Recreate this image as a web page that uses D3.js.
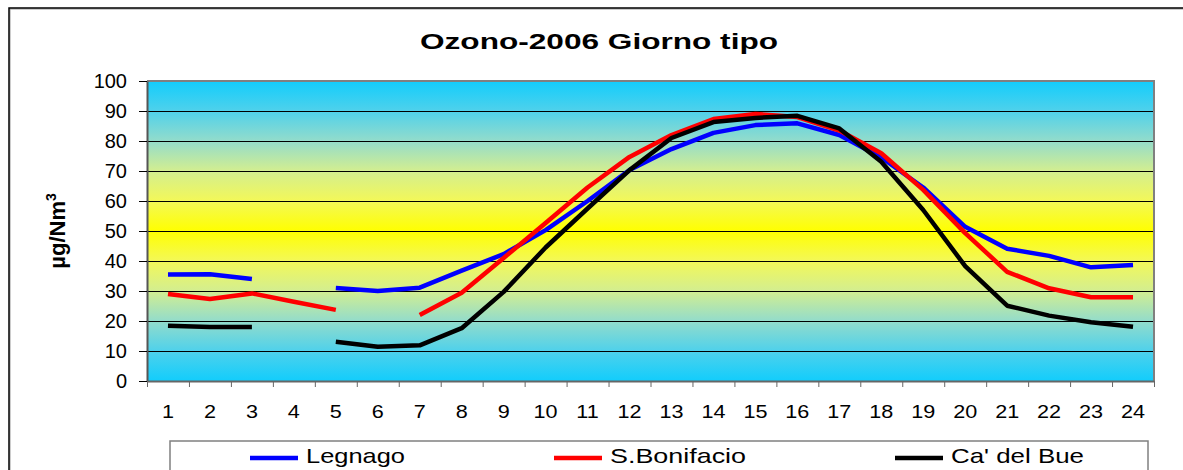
<!DOCTYPE html>
<html>
<head>
<meta charset="utf-8">
<script src="https://cdn.jsdelivr.net/npm/d3@7"></script>
<style>
  body { margin: 0; background: #fff; }
  text { font-family: Arial, "Liberation Sans", sans-serif; }
</style>
</head>
<body>
<div class="chart"></div>
<script>
// hours of the day (categories)
let hours = [1, 2, 3, 4, 5, 6, 7, 8, 9, 10, 11, 12, 13, 14, 15, 16, 17, 18, 19, 20, 21, 22, 23, 24]

// ozone, µg/Nm3 (null = missing hour)
let legnago = [35.5, 35.6, 34, null, 31, 30, 31.1, 36.8, 42.3, 50.3, 60, 70.3, 77.3, 82.7, 85.3, 85.9, 82, 74.5, 64.5, 51.4, 44.1, 41.7, 37.9, 38.7]
let sBonifacio = [29, 27.3, 29.2, 26.4, 23.7, null, 22, 29.4, 41, 52.7, 64.5, 74.7, 82, 87.3, 89, 88, 83.5, 75.9, 63.7, 49.3, 36.4, 30.9, 27.9, 27.9]
let caDelBue = [18.4, 18, 18, null, 13.1, 11.4, 11.9, 17.6, 29.7, 44.5, 57.5, 70.3, 81, 86.3, 87.7, 88.4, 84.2, 73.1, 57, 38.3, 25.1, 21.8, 19.6, 18.1]

let seriesNames = ["Legnago", "S.Bonifacio", "Ca' del Bue"]
let seriesColors = ["#0000ff", "#ff0000", "#000000"]
let yTicks = [0, 10, 20, 30, 40, 50, 60, 70, 80, 90, 100]

const width = 1183
const height = 470
const plotL = 147, plotR = 1154, plotT = 81, plotB = 381

let svg = d3.select(".chart")
  .append("svg")
  .attr("width", width)
  .attr("height", height)

// outer frame (runs off the right/bottom edge like the original)
svg.append("rect")
  .attr("x", 10).attr("y", 9)
  .attr("width", 1200).attr("height", 500)
  .attr("fill", "none").attr("stroke", "#9a9a9a").attr("stroke-width", 1)
svg.append("rect")
  .attr("x", 9).attr("y", 8)
  .attr("width", 1200).attr("height", 500)
  .attr("fill", "none").attr("stroke", "#000").attr("stroke-width", 1.5)

// background gradient cyan -> yellow -> cyan
let grad = svg.append("defs").append("linearGradient")
  .attr("id", "bg").attr("x1", 0).attr("y1", 0).attr("x2", 0).attr("y2", 1)
let stops = [
  [0, "#12cdfc"], [0.1, "#4fd1eb"], [0.2, "#93dccb"], [0.3, "#d3ee90"], [0.4, "#f3f858"], [0.5, "#ffff00"],
  [0.6, "#f3f858"], [0.7, "#d3ee90"], [0.8, "#93dccb"], [0.9, "#4fd1eb"], [1, "#12cdfc"]
]
grad.selectAll("stop").data(stops).enter().append("stop")
  .attr("offset", d => d[0]).attr("stop-color", d => d[1])

let x = d3.scaleBand().domain(hours).range([plotL, plotR])
let xEdge = d3.scaleLinear().domain([0, 24]).range([plotL, plotR])
let y = d3.scaleLinear().domain([0, 100]).range([plotB, plotT])

svg.append("rect")
  .attr("x", plotL).attr("y", plotT)
  .attr("width", plotR - plotL).attr("height", plotB - plotT)
  .attr("fill", "url(#bg)")

// gridlines
svg.append("g")
  .attr("transform", "translate(" + plotL + ",0)")
  .call(d3.axisLeft(y).tickValues(yTicks.slice(1, -1)).tickSize(-(plotR - plotL)).tickFormat(""))
  .call(g => g.select(".domain").remove())
  .call(g => g.selectAll("line").attr("stroke", "#000").attr("stroke-width", 1))

// plot border top/right
svg.append("path")
  .attr("d", "M" + plotL + "," + plotT + "H" + plotR + "V" + plotB)
  .attr("fill", "none").attr("stroke", "#808080").attr("stroke-width", 2)

// y axis
let yAxis = svg.append("g")
  .attr("transform", "translate(" + plotL + ",0)")
  .call(d3.axisLeft(y).tickValues(yTicks).tickSize(8).tickPadding(12).tickSizeOuter(0))
yAxis.select(".domain").attr("stroke", "#555").attr("stroke-width", 2)
yAxis.selectAll(".tick line").attr("stroke", "#000")
yAxis.selectAll("text").attr("font-size", 20).attr("fill", "#000")

// x axis tick marks on category edges
let xTicks = svg.append("g")
  .attr("transform", "translate(0," + plotB + ")")
  .call(d3.axisBottom(xEdge).ticks(24).tickSize(6).tickFormat("").tickSizeOuter(0))
xTicks.select(".domain").attr("stroke", "#666").attr("stroke-width", 2)
xTicks.selectAll(".tick line").attr("stroke", "#666")

// x labels at category centres
let xLabels = svg.append("g")
  .attr("transform", "translate(0," + plotB + ")")
  .call(d3.axisBottom(x).tickSize(0).tickPadding(24))
xLabels.select(".domain").remove()
xLabels.selectAll("text").attr("font-size", 18).attr("fill", "#000")
  .attr("transform", "scale(1.2,1)")

// lines
let allSeries = [legnago, sBonifacio, caDelBue]
let line = d3.line()
  .defined(d => d.v !== null)
  .x(d => x(d.h) + x.bandwidth() / 2)
  .y(d => y(d.v))

allSeries.forEach((s, i) => {
  svg.append("path")
    .datum(hours.map((h, j) => ({ h: h, v: s[j] })))
    .attr("d", line)
    .attr("fill", "none")
    .attr("stroke", seriesColors[i])
    .attr("stroke-width", 4.5)
    .attr("stroke-linejoin", "round")
})

// title
svg.append("text")
  .text("Ozono-2006 Giorno tipo")
  .attr("x", 420).attr("y", 48.5)
  .attr("font-size", 22).attr("font-weight", "bold")
  .attr("textLength", 358).attr("lengthAdjust", "spacingAndGlyphs")

// y axis title
let yTitle = svg.append("text")
  .attr("transform", "translate(65,231) rotate(-90)")
  .attr("text-anchor", "middle")
  .attr("font-size", 22).attr("font-weight", "bold")
yTitle.append("tspan").text("µg/Nm")
yTitle.append("tspan").text("3").attr("font-size", 14).attr("dy", -9)

// legend
let legend = svg.append("g")
legend.append("rect")
  .attr("x", 170).attr("y", 441)
  .attr("width", 978).attr("height", 60)
  .attr("fill", "#fff").attr("stroke", "#808080").attr("stroke-width", 1.5)
let legX = [250, 554, 895]
let legW = [99, 136, 133]
seriesNames.forEach((n, i) => {
  legend.append("line")
    .attr("x1", legX[i]).attr("x2", legX[i] + 48)
    .attr("y1", 458).attr("y2", 458)
    .attr("stroke", seriesColors[i]).attr("stroke-width", 4.5)
  legend.append("text")
    .text(n)
    .attr("x", legX[i] + 56).attr("y", 463)
    .attr("font-size", 21)
    .attr("textLength", legW[i]).attr("lengthAdjust", "spacingAndGlyphs")
})
</script>
</body>
</html>
